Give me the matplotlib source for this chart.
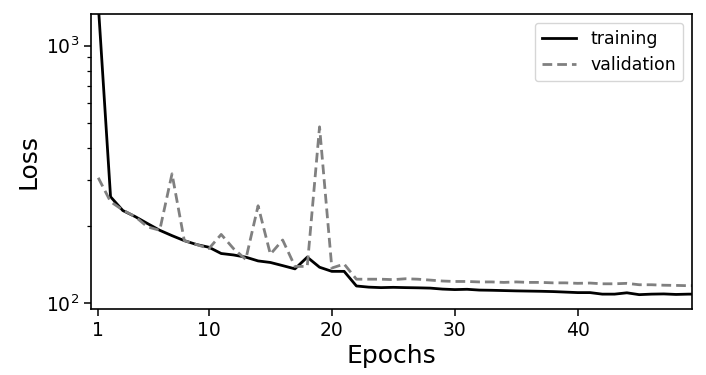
import matplotlib
matplotlib.use("Agg")
import matplotlib.pyplot as plt
import numpy as np

epochs = list(range(1, 51))
training = [1450, 259, 229, 217, 204, 192, 183, 175, 169, 165,
            156, 154, 151, 146, 144, 140, 136, 151, 138, 133,
            133, 116.7, 115.5, 115, 115.3, 115, 114.8, 114.5, 113.5, 113,
            113.3, 112.5, 112.3, 112, 111.7, 111.5, 111.3, 111, 110.5, 110,
            110, 108.5, 108.5, 109.8, 108, 108.5, 108.7, 108.2, 108.5, 108.5]
validation = [307, 248, 230, 217, 198, 192, 318, 175, 169, 163,
              185, 163, 148, 239, 155, 176, 139, 139, 484, 137,
              142, 124, 124, 124, 123.5, 124.5, 124, 123, 122, 121.5,
              121.5, 121, 121, 120.5, 121, 120.5, 120.5, 120, 120, 119.5,
              119.8, 119, 119, 119.5, 118, 118, 117.5, 117.3, 117, 117]
xticks = [1, 10, 20, 30, 40]

fig = plt.figure(figsize=(7.06, 3.75), dpi=100)
ax = fig.add_axes([0.1289, 0.176, 0.8508, 0.7867])
ax.plot(epochs, training, color="black", lw=2, label="training")
ax.plot(epochs, validation, color="gray", lw=2, ls="--", dashes=(3.5, 1.8), label="validation")
ax.set_yscale("log")
ax.set_xlim(0.41, 49.27)
ax.set_ylim(95.0, 1327)
ax.set_xticks(xticks)
ax.set_xticklabels([str(t) for t in xticks])
ax.tick_params(axis="both", which="major", labelsize=13.5, length=5, width=1.1)
ax.tick_params(axis="y", which="minor", length=3, width=0.9)
for s in ax.spines.values():
    s.set_linewidth(1.2)
ax.set_xlabel("Epochs", fontsize=18, labelpad=3)
ax.set_ylabel("Loss", fontsize=18)
ax.legend(loc="upper right", fontsize=12.5)
fig.savefig("out.png", dpi=100)
